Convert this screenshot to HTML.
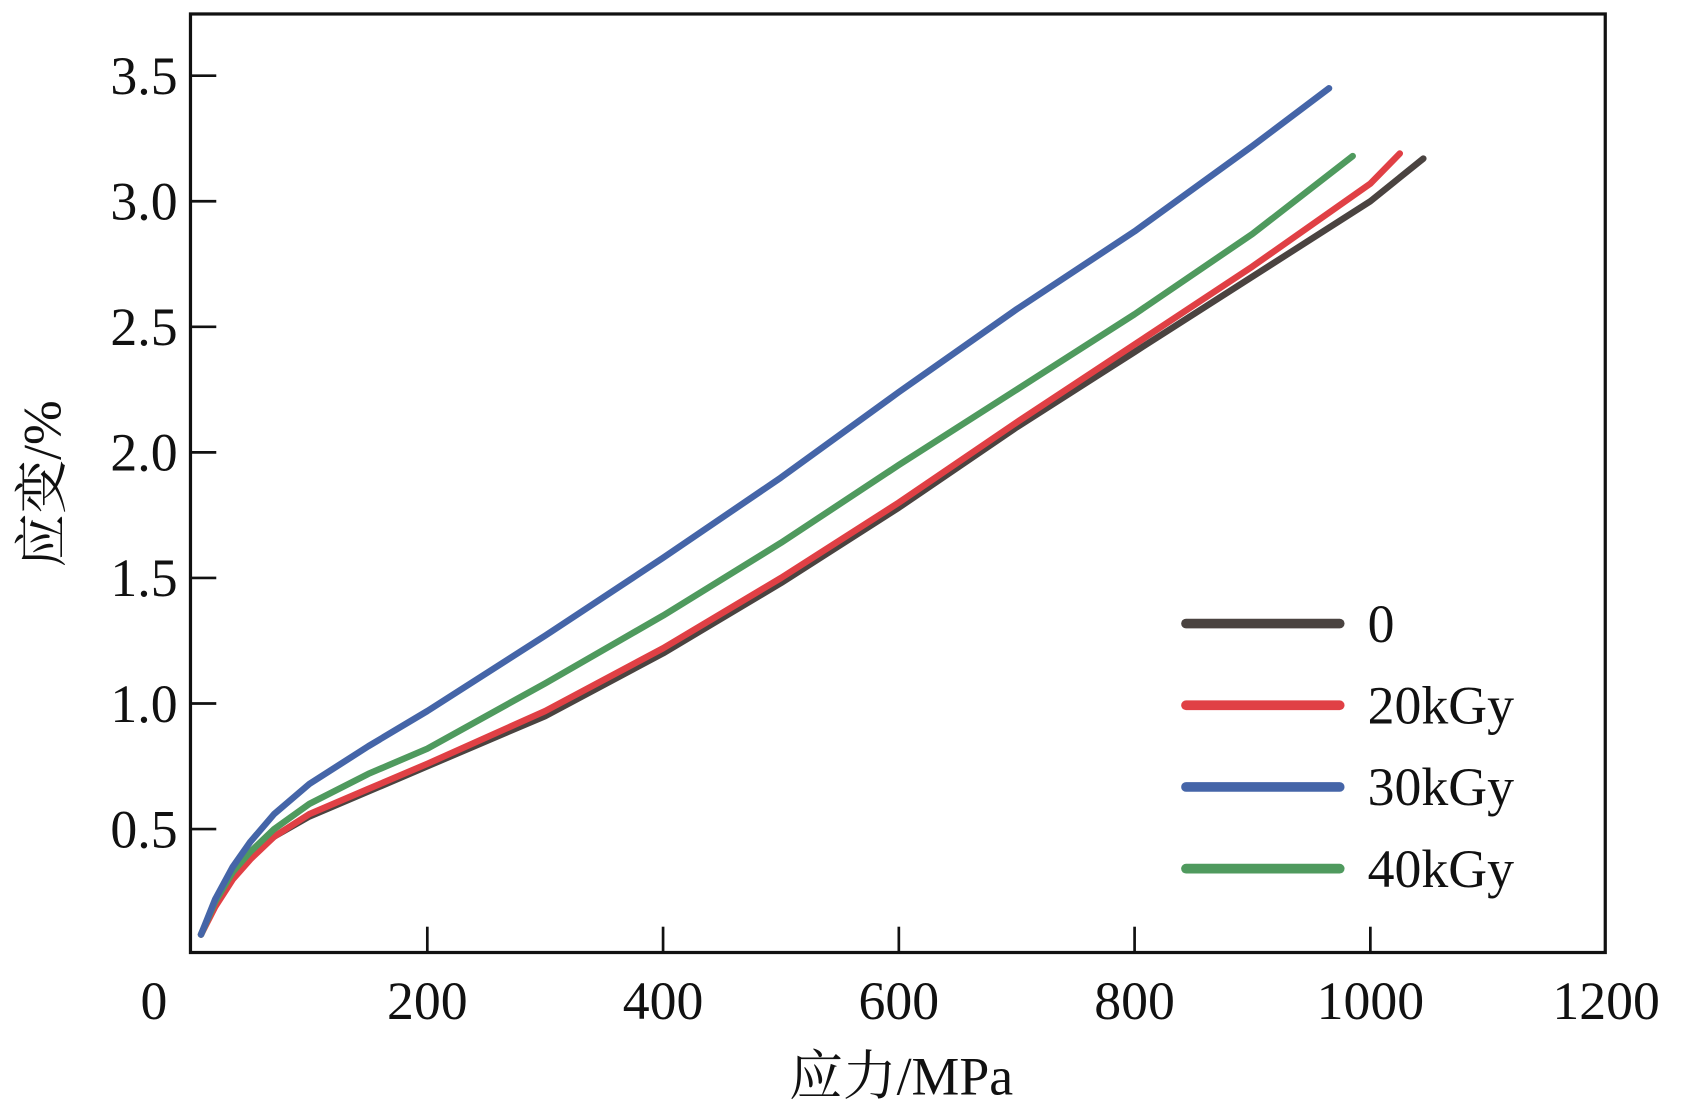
<!DOCTYPE html>
<html><head><meta charset="utf-8"><style>
html,body{margin:0;padding:0;background:#fff;}
svg{display:block;}
text{font-family:"Liberation Serif","Noto Serif CJK SC",serif;fill:#111;}
</style></head><body>
<svg id="chart" width="1685" height="1110" viewBox="0 0 1567 1032.5" xmlns="http://www.w3.org/2000/svg">
<g transform="translate(0,-2)">
<g id="axes"></g>
<g id="series"></g>
<g id="legend"></g>
</g>
</svg>
<script>
const xTicks = [0,200,400,600,800,1000,1200];
const yTicks = [0.5,1.0,1.5,2.0,2.5,3.0,3.5];
const yTickLabels = ["0.5","1.0","1.5","2.0","2.5","3.0","3.5"];
const seriesNames = ["0","20kGy","30kGy","40kGy"];
const seriesColors = ["#4a4340","#e04045","#4565a8","#4f9a5e"];
const xs0 = [8,20,35,50,70,100,150,200,300,400,500,600,700,800,900,1000,1045];
const ys0 = [0.08,0.2,0.31,0.39,0.47,0.55,0.65,0.75,0.95,1.2,1.48,1.78,2.1,2.4,2.7,3.0,3.17];
const xs20 = [8,20,35,50,70,100,150,200,300,400,500,600,700,800,900,1000,1025];
const ys20 = [0.08,0.19,0.3,0.38,0.47,0.56,0.66,0.76,0.97,1.22,1.5,1.8,2.12,2.43,2.74,3.07,3.19];
const xs30 = [8,20,35,50,70,100,150,200,300,400,500,600,700,800,900,965];
const ys30 = [0.08,0.22,0.35,0.45,0.56,0.68,0.83,0.97,1.27,1.58,1.9,2.24,2.57,2.88,3.22,3.45];
const xs40 = [8,20,35,50,70,100,150,200,300,400,500,600,700,800,900,985];
const ys40 = [0.08,0.21,0.33,0.41,0.5,0.6,0.72,0.82,1.08,1.35,1.64,1.95,2.25,2.55,2.87,3.18];
const seriesX = [xs0,xs20,xs30,xs40];
const seriesY = [ys0,ys20,ys30,ys40];

const NS="http://www.w3.org/2000/svg";
const L=177,R=1493,T=15,B=888;
const X0=178, XPU=219.3/200, Y0=890, YPU=233.6;
const sx=v=>X0+v*XPU, sy=v=>Y0-v*YPU;
function mk(tag,attrs,parent){const e=document.createElementNS(NS,tag);for(const k in attrs)e.setAttribute(k,attrs[k]);parent.appendChild(e);return e;}
const axes=document.getElementById('axes');
const frame=mk('rect',{x:L,y:T,width:R-L,height:B-T,fill:'none',stroke:'#111','stroke-width':3},axes);


xTicks.forEach((v,i)=>{
  const x=sx(v);
  if(v>0&&v<1200){const t=mk('line',{x1:x,x2:x,y1:B,y2:B-24,stroke:'#111','stroke-width':2.5},axes);
  
  }
  const tx=mk('text',{x:v===0?143:x,y:950,'font-size':50,'text-anchor':'middle'},axes);
  tx.textContent=String(v);
  
  
});
yTicks.forEach((v,i)=>{
  const y=sy(v);
  const t=mk('line',{x1:L,x2:L+24,y1:y,y2:y,stroke:'#111','stroke-width':2.5},axes);
  
  
  const tx=mk('text',{x:165,y:y+17,'font-size':50,'text-anchor':'end'},axes);
  tx.textContent=yTickLabels[i];
  
  
});
const xt=mk('text',{x:838,y:1020,'font-size':50,'text-anchor':'middle'},axes);
xt.textContent='应力/MPa';


const yt=mk('text',{x:0,y:0,'font-size':50,'text-anchor':'middle',transform:'translate(56,452) rotate(-90)'},axes);
yt.textContent='应变/%';



const sg=document.getElementById('series');
const lg=document.getElementById('legend');
[0,1,3,2].forEach(i=>{
  const d=seriesX[i].map((x,j)=>(j?'L':'M')+sx(x).toFixed(1)+','+sy(seriesY[i][j]).toFixed(1)).join(' ');
  const p=mk('path',{d:d,fill:'none',stroke:seriesColors[i],'stroke-width':6,'stroke-linecap':'round','stroke-linejoin':'round'},sg);
  
  
});
seriesNames.forEach((n,i)=>{
  const y=582+i*76;
  const l=mk('line',{x1:1103,x2:1246,y1:y,y2:y,stroke:seriesColors[i],'stroke-width':9,'stroke-linecap':'round'},lg);
  
  
  const t=mk('text',{x:1272,y:y+17,'font-size':50},lg);
  t.textContent=n;
  
  
});
</script>
</body></html>
